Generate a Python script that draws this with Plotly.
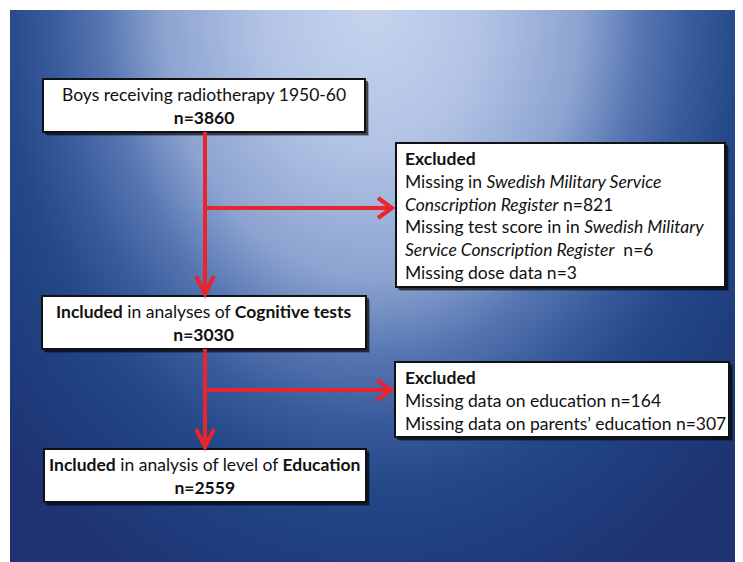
import base64
import plotly.graph_objects as go

# ---------------- data ----------------
main_labels = [
    "Boys receiving radiotherapy 1950-60",
    "<b>Included</b> in analyses of <b>Cognitive tests</b>",
    "<b>Included</b> in analysis of level of <b>Education</b>",
]
main_n = [3860, 3030, 2559]

excl1_reasons = [
    "Missing in <i>Swedish Military Service</i><br><i>Conscription Register</i>",
    "Missing test score in in <i>Swedish Military</i><br><i>Service Conscription Register</i> ",
    "Missing dose data",
]
excl1_n = [821, 6, 3]

excl2_reasons = [
    "Missing data on education",
    "Missing data on parents\u2019 education",
]
excl2_n = [164, 307]

# ---------------- layout geometry (screen pixels) ----------------
W, H = 743, 562
OFF = 8  # page body margin: screen pixel = figure pixel + OFF
main_boxes = [(43, 79, 365, 132), (42, 296, 366, 349), (44, 449, 366, 502)]
excl_boxes = [(396, 143, 725, 287), (395, 362, 729, 437)]
excl_text_x = 403
stem_x = 205
branch_y = [208, 390]

RED = "#e8242c"
FONT = "Lato"
FS = 17.5
TXT = "#111111"

# ---------------- background (radial gradient) ----------------
svg = f'''<svg xmlns="http://www.w3.org/2000/svg" width="{W}" height="{H}" viewBox="{OFF} {OFF} {W} {H}" preserveAspectRatio="none">
<defs>
<radialGradient id="g" gradientUnits="userSpaceOnUse" cx="0" cy="0" r="1.25"
 gradientTransform="translate(372,5) scale(400,520)">
<stop offset="0" stop-color="#c6d4ed"/>
<stop offset="0.22" stop-color="#b2c3e5"/>
<stop offset="0.42" stop-color="#8ca3d0"/>
<stop offset="0.54" stop-color="#5676b2"/>
<stop offset="0.64" stop-color="#3a5b9b"/>
<stop offset="0.74" stop-color="#244888"/>
<stop offset="0.86" stop-color="#1f3e7e"/>
<stop offset="1" stop-color="#1f3372"/>
</radialGradient>
</defs>
<rect x="0" y="0" width="{W + 2*OFF}" height="{H + 2*OFF}" fill="#ffffff"/>
<rect x="10" y="10" width="{W + OFF}" height="{H + OFF}" fill="url(#g)"/>
</svg>'''
bg_uri = "data:image/svg+xml;base64," + base64.b64encode(svg.encode()).decode()

fig = go.Figure()
fig.add_trace(go.Scatter(x=[OFF, W + OFF], y=[OFF, H + OFF], mode="markers",
                         marker=dict(opacity=0), hoverinfo="skip", showlegend=False))

shapes = []
annotations = []


def box(b):
    x0, y0, x1, y1 = b
    shapes.append(dict(type="rect", x0=x0 + 4, y0=y0 + 4, x1=x1 + 4, y1=y1 + 4,
                       fillcolor="rgba(0,0,0,0.25)", line=dict(width=0), layer="above"))
    shapes.append(dict(type="rect", x0=x0 + 2, y0=y0 + 2, x1=x1 + 3, y1=y1 + 3,
                       fillcolor="rgba(0,0,0,0.55)", line=dict(width=0), layer="above"))
    shapes.append(dict(type="rect", x0=x0, y0=y0, x1=x1, y1=y1,
                       fillcolor="white", line=dict(color="#111111", width=2), layer="above"))


def line(x0, y0, x1, y1):
    shapes.append(dict(type="line", x0=x0, y0=y0, x1=x1, y1=y1,
                       line=dict(color=RED, width=4), layer="above"))


def chevron_down(x, y):
    shapes.append(dict(type="path", path=f"M {x-9},{y-18} L {x},{y} L {x+9},{y-18}",
                       line=dict(color=RED, width=4), layer="above"))


def chevron_right(x, y):
    shapes.append(dict(type="path", path=f"M {x-14},{y-10} L {x},{y} L {x-14},{y+10}",
                       line=dict(color=RED, width=4), layer="above"))


for b in main_boxes + excl_boxes:
    box(b)

# arrows
for i in range(2):
    top = main_boxes[i][3]
    bottom = main_boxes[i + 1][1]
    line(stem_x, top, stem_x, bottom - 3)
    chevron_down(stem_x, bottom - 2)
    line(stem_x, branch_y[i], excl_boxes[i][0] - 5, branch_y[i])
    chevron_right(excl_boxes[i][0] - 4, branch_y[i])

# main box texts
for b, lab, n in zip(main_boxes, main_labels, main_n):
    cx = (b[0] + b[2]) / 2
    cy = (b[1] + b[3]) / 2
    annotations.append(dict(x=cx, y=cy, xref="x", yref="y", showarrow=False,
                            text=f"{lab}<br><b>n={n}</b>",
                            align="center", xanchor="center", yanchor="middle",
                            font=dict(family=FONT, size=FS, color=TXT)))

# excluded texts (top-anchored)
ex1_lines = "<br>".join(f"{r} n={n}" for r, n in zip(excl1_reasons, excl1_n))
ex2_lines = "<br>".join(f"{r} n={n}" for r, n in zip(excl2_reasons, excl2_n))
for txt, b in zip([ex1_lines, ex2_lines], excl_boxes):
    annotations.append(dict(x=excl_text_x, y=b[1] + 3, xref="x", yref="y", showarrow=False,
                            text="<b>Excluded</b><br>" + txt,
                            align="left", xanchor="left", yanchor="top",
                            font=dict(family=FONT, size=FS, color=TXT)))

fig.update_layout(
    width=W, height=H,
    margin=dict(l=0, r=0, t=0, b=0),
    paper_bgcolor="white", plot_bgcolor="rgba(0,0,0,0)",
    xaxis=dict(range=[OFF, W + OFF], visible=False, fixedrange=True),
    yaxis=dict(range=[H + OFF, OFF], visible=False, fixedrange=True),
    shapes=shapes,
    annotations=annotations,
    images=[dict(source=bg_uri, xref="paper", yref="paper", x=0, y=1,
                 sizex=1, sizey=1, xanchor="left", yanchor="top",
                 sizing="stretch", layer="below")],
    showlegend=False,
)

fig.write_html("out.html")
